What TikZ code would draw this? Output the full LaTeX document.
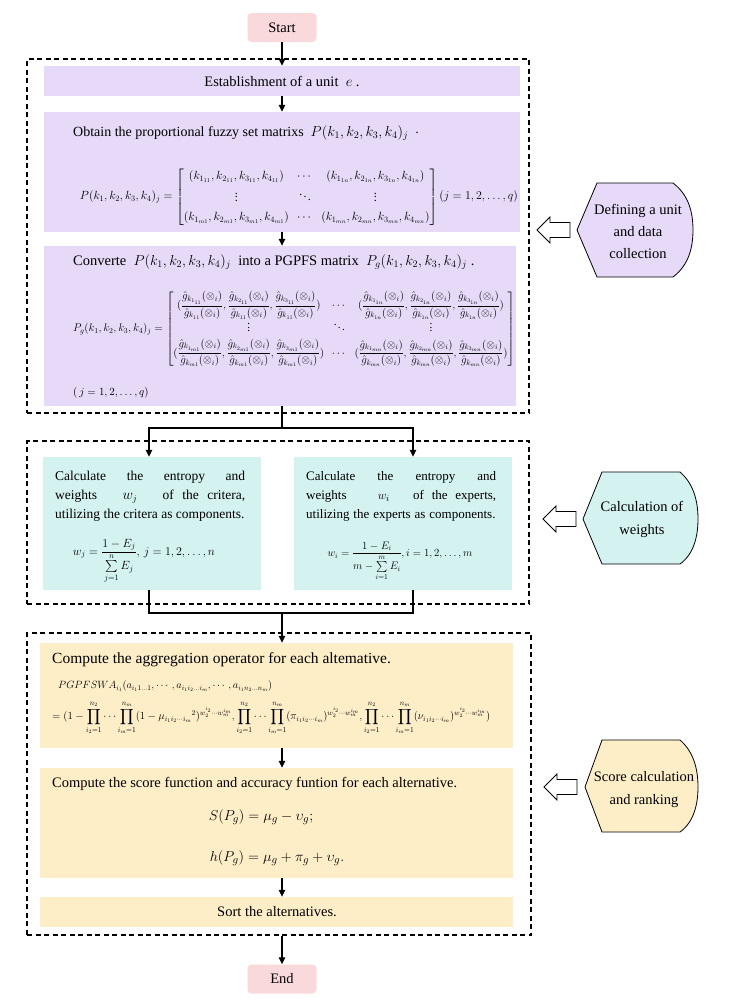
\documentclass[tikz,border=0pt]{standalone}
\usepackage{amsmath}
\usepackage[no-math]{fontspec}
\setmainfont{Liberation Serif}
\usepackage{graphicx}
\usetikzlibrary{arrows.meta,calc}
\definecolor{lav}{HTML}{E6DAF8}
\definecolor{cyb}{HTML}{D3F2F0}
\definecolor{yel}{HTML}{FDEEC8}
\definecolor{pnk}{HTML}{F9D9DC}
\newcommand{\gfr}[2]{\dfrac{\hat{g}_{k_{#1}}(\otimes_i)}{\hat{g}_{k_{#2}}(\otimes_i)}}
\newcommand{\wexp}{w_2^{i_2}\cdots w_m^{i_m}}
\newcommand{\pprod}{\prod_{i_2=1}^{n_2}\cdots\prod_{i_m=1}^{n_m}}
\begin{document}
\begin{tikzpicture}[x=1pt,y=-1pt,
  txt/.style={font=\fontsize{14.5}{17}\selectfont, inner sep=0pt},
  term/.style={txt, fill=pnk, rounded corners=4pt, minimum width=69pt, minimum height=29pt},
  boxfill/.style={inner sep=0pt, fill=#1},
  grp/.style={draw, dashed, dash pattern=on 5pt off 3.5pt, line width=1.1pt, inner sep=0pt},
  arr/.style={line width=1.3pt, -{Triangle[length=7pt,width=6.5pt]}},
  ln/.style={line width=1.3pt},
  side/.style={draw, line width=0.8pt},
  hollow/.style={draw, line width=0.8pt, fill=white}
]
\useasboundingbox (0,0) rectangle (739,999);
\fill[white] (0,0) rectangle (739,999);

% start
\node[term] (start) at (282,27.5) {Start};

% group 1
\node[grp, minimum width=502pt, minimum height=354pt] (g1) at (278,236) {};
\node[boxfill=lav, minimum width=476pt, minimum height=30pt] (est) at (282,81) {};
\node[txt] (estT) at (282,81) {Establishment of a unit \ $e$ .};

\node[boxfill=lav, minimum width=476pt, minimum height=120pt] (obt) at (282,172) {};
\node[txt, anchor=west, font=\fontsize{14}{16}\selectfont] (obtT) at (73,133) {Obtain the proportional fuzzy set matrixs \ $P(k_1,k_2,k_3,k_4)_j$ \ $\cdot$};
\node[txt] (mat1) at (299,197) {\resizebox{438pt}{!}{$P(k_1,k_2,k_3,k_4)_j=\begin{bmatrix}(k_{1_{11}},k_{2_{11}},k_{3_{11}},k_{4_{11}}) & \cdots & (k_{1_{1n}},k_{2_{1n}},k_{3_{1n}},k_{4_{1n}})\\[6pt] \vdots & \ddots & \vdots\\[6pt] (k_{1_{m1}},k_{2_{m1}},k_{3_{m1}},k_{4_{m1}}) & \cdots & (k_{1_{mn}},k_{2_{mn}},k_{3_{mn}},k_{4_{mn}})\end{bmatrix}(j=1,2,\ldots,q)$}};

\node[boxfill=lav, minimum width=472pt, minimum height=160pt] (conv) at (280,326) {};
\node[txt, anchor=west] (convT) at (73,262) {Converte \ $P(k_1,k_2,k_3,k_4)_j$ \ into a PGPFS matrix \ $P_g(k_1,k_2,k_3,k_4)_j$ .};
\node[txt] (mat2) at (294,329) {\resizebox{442pt}{!}{$P_g(k_1,k_2,k_3,k_4)_j=\begin{bmatrix}(\gfr{1_{11}}{11},\gfr{2_{11}}{11},\gfr{3_{11}}{11}) & \cdots & (\gfr{1_{1n}}{1n},\gfr{2_{1n}}{1n},\gfr{3_{1n}}{1n})\\[5pt] \vdots & \ddots & \vdots\\[5pt] (\gfr{1_{m1}}{m1},\gfr{2_{m1}}{m1},\gfr{3_{m1}}{m1}) & \cdots & (\gfr{1_{mn}}{mn},\gfr{2_{mn}}{mn},\gfr{3_{mn}}{mn})\end{bmatrix}$}};
\node[txt, anchor=west, font=\fontsize{10.5}{12}\selectfont] (jq) at (73,393) {$(\,j=1,2,\ldots,q)$};

% group 2
\node[grp, minimum width=502pt, minimum height=163pt] (g2) at (278,522.5) {};
\node[boxfill=cyb, minimum width=218pt, minimum height=133pt] (wl) at (152,523.5) {};
\node[boxfill=cyb, minimum width=218pt, minimum height=133pt] (wr) at (403,523.5) {};
\node[txt, anchor=north west, text width=190pt, align=justify, font=\fontsize{13.5}{19}\selectfont] (wlT) at (55,471) {Calculate the entropy and\linebreak weights \ \ $w_j$ \ \ of the critera,\linebreak utilizing the critera as components.};
\node[txt, anchor=north west, text width=190pt, align=justify, font=\fontsize{13}{19}\selectfont] (wrT) at (306,471) {Calculate the entropy and\linebreak weights \ \ \ $w_i$ \ \ of the experts,\linebreak utilizing\hspace{0pt plus 1fil} the\hspace{0pt plus 1fil} experts\hspace{0pt plus 1fil} as\hspace{0pt plus 1fil} components.};
\node[txt] (wlF) at (144,561) {\resizebox{142pt}{!}{$\displaystyle w_j=\frac{1-E_j}{\sum\limits_{j=1}^{n}E_j},\, j=1,2,\ldots,n$}};
\node[txt] (wrF) at (400,561) {\resizebox{145pt}{!}{$\displaystyle w_i=\frac{1-E_i}{m-\sum\limits_{i=1}^{m}E_i},i=1,2,\ldots,m$}};

% group 3
\node[grp, minimum width=504pt, minimum height=302pt] (g3) at (279,784) {};
\node[boxfill=yel, minimum width=473pt, minimum height=105pt] (agg) at (276.5,695.5) {};
\node[txt, anchor=west, font=\fontsize{15.5}{18}\selectfont] (aggT) at (52,660) {Compute the aggregation operator for each altemative.};
\node[txt, anchor=west] (aggF1) at (58,686) {\resizebox{214pt}{!}{$PGPFSWA_{i_1}(a_{i_1 1\ldots 1},\cdots,a_{i_1 i_2\ldots i_m},\cdots,a_{i_1 n_2\ldots n_m})$}};
\node[txt, anchor=west] (aggF2) at (52,718) {\resizebox{438pt}{!}{$\displaystyle =(1-\pprod(1-\mu_{i_1 i_2\cdots i_m}{}^2)^{\wexp},\pprod(\pi_{i_1 i_2\cdots i_m})^{\wexp},\pprod(\nu_{i_1 i_2\cdots i_m})^{\wexp})$}};

\node[boxfill=yel, minimum width=473pt, minimum height=110pt] (score) at (276.5,823) {};
\node[txt, anchor=west] (scoreT) at (52,784) {Compute the score function and accuracy funtion for each alternative.};
\node[txt, font=\fontsize{15}{18}\selectfont] (sF) at (261,817) {$S(P_g)=\mu_g-\upsilon_g;$};
\node[txt, font=\fontsize{15}{18}\selectfont] (hF) at (277,858) {$h(P_g)=\mu_g+\pi_g+\upsilon_g.$};

\node[boxfill=yel, minimum width=473pt, minimum height=30pt] (sort) at (276.5,912) {};
\node[txt] (sortT) at (277,912) {Sort the alternatives.};

\node[term] (end) at (282,979) {End};

% connectors
\coordinate (split) at (282,428);
\coordinate (jL) at (149,428);
\coordinate (jR) at (413,428);
\coordinate (mL) at (149,613);
\coordinate (mR) at (413,613);
\coordinate (merge) at (282,613);
\draw[arr] (start.south) -- (est.north);
\draw[arr] (est.south) -- (est.south |- obt.north);
\draw[arr] (est.south |- obt.south) -- (est.south |- conv.north);
\draw[ln] (est.south |- conv.south) -- (split);
\draw[arr] (split) -- (jL) -- (jL |- wl.north);
\draw[arr] (split) -- (jR) -- (jR |- wr.north);
\draw[ln] (jL |- wl.south) -- (mL) -- (mR) -- (jR |- wr.south);
\draw[arr] (merge) -- (merge |- agg.north);
\draw[arr] (merge |- agg.south) -- (merge |- score.north);
\draw[arr] (merge |- score.south) -- (merge |- sort.north);
\draw[arr] (merge |- g3.south) -- (end.north);

% side labels
\path[side, fill=lav] (577,230) -- (597,183) -- (673,183) .. controls (689,195) and (693,213) .. (693,230) .. controls (693,247) and (689,265) .. (673,277) -- (597,277) -- cycle;
\node[txt, align=center, font=\fontsize{14.5}{22}\selectfont] (s1) at (638,231) {Defining a unit\\and data\\collection};
\path[hollow] (537,230) -- ++(13,-13) -- ++(0,5.5) -- ++(20,0) -- ++(0,15) -- ++(-20,0) -- ++(0,5.5) -- cycle;

\path[side, fill=cyb] (583,519) -- (602,472) -- (680,472) .. controls (694,484) and (698,502) .. (698,519) .. controls (698,536) and (694,554) .. (680,564) -- (602,564) -- cycle;
\node[txt, align=center, font=\fontsize{14.5}{23}\selectfont] (s2) at (642,519) {Calculation of\\weights};
\path[hollow] (543,519) -- ++(13,-13) -- ++(0,5.5) -- ++(20,0) -- ++(0,15) -- ++(-20,0) -- ++(0,5.5) -- cycle;

\path[side, fill=yel] (585,787) -- (602,740) -- (680,740) .. controls (694,752) and (698,770) .. (698,787) .. controls (698,804) and (694,822) .. (680,832) -- (602,832) -- cycle;
\node[txt, align=center, font=\fontsize{14.5}{23}\selectfont] (s3) at (644,790) {Score calculation\\and ranking};
\path[hollow] (544,787) -- ++(13,-13) -- ++(0,5.5) -- ++(20,0) -- ++(0,15) -- ++(-20,0) -- ++(0,5.5) -- cycle;
\end{tikzpicture}
\end{document}
